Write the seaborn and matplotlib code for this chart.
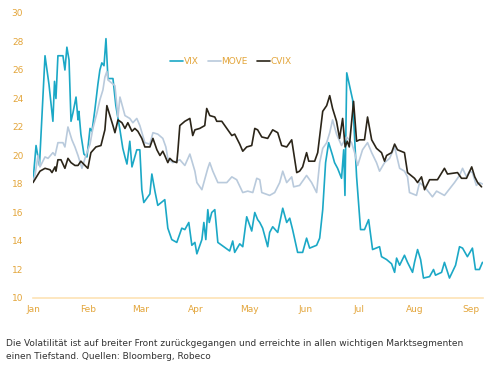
import numpy as np
import pandas as pd
import matplotlib
matplotlib.use("Agg")
import matplotlib.pyplot as plt
import seaborn as sns

# ---- data (day of year 2016, value) ----
vix_day = [0.0, 1.7, 3.6, 6.7, 8.9, 11.1, 12.0, 12.8, 13.9, 16.7, 17.8, 18.9, 20.1, 21.2, 22.3, 24.0,
           25.1, 25.6, 26.7, 28.4, 30.1, 31.8, 32.9, 34.5, 36.2, 37.3, 38.4, 39.6, 40.7, 41.8, 44.6,
           46.2, 48.5, 50.1, 51.3, 52.4, 54.0, 55.2, 57.9, 59.6, 60.7, 61.8, 65.2, 66.3, 68.0, 69.6,
           73.5, 75.2, 77.4, 80.2, 83.0, 84.7, 86.9, 88.6, 90.3, 91.4, 94.2, 95.3, 96.4, 97.5, 98.3,
           99.7, 101.4, 103.1, 106.4, 109.7, 111.4, 112.5, 115.3, 117.0, 119.2, 122.0, 123.7, 125.3,
           126.5, 128.1, 130.9, 132.0, 133.7, 136.5, 139.3, 141.5, 143.2, 144.8, 147.6, 150.4, 152.6,
           154.3, 158.2, 159.9, 161.6, 163.2, 164.9, 167.1, 168.2, 169.9, 172.1, 173.3, 174.0, 175.0,
           178.3, 180.5, 182.7, 184.9, 187.2, 189.4, 193.3, 194.4, 197.2, 200.0, 201.7, 202.8, 204.5,
           207.2, 208.9, 211.7, 212.8, 214.5, 216.2, 217.8, 221.2, 223.4, 224.5, 227.9, 229.5, 232.3,
           235.7, 237.9, 239.6, 242.3, 245.1, 246.8, 249.0, 250.7]
vix = [18.2, 20.7, 19.3, 27.0, 25.0, 22.4, 25.2, 24.0, 27.0, 27.0, 26.0, 27.6, 26.7, 22.4, 23.0, 24.1,
       22.5, 23.1, 21.5, 20.1, 19.9, 21.9, 21.7, 23.2, 25.0, 26.0, 26.5, 26.3, 28.2, 25.4, 25.4,
       23.5, 21.8, 20.5, 19.9, 19.4, 21.0, 19.2, 20.4, 20.4, 17.6, 16.7, 17.3, 18.7, 17.5, 16.5,
       16.9, 14.9, 14.1, 13.9, 14.9, 14.8, 15.3, 13.7, 13.9, 13.1, 14.1, 15.3, 14.1, 16.2, 15.3,
       16.0, 16.2, 13.9, 13.6, 13.3, 14.0, 13.2, 13.8, 13.6, 15.7, 14.7, 16.0, 15.5,
       15.3, 14.9, 13.6, 14.6, 15.0, 14.6, 16.3, 15.3, 15.6, 14.8, 13.2, 13.2, 14.2,
       13.5, 13.7, 14.2, 16.2, 19.5, 20.9, 20.0, 19.5, 19.1, 18.4, 20.4, 17.2, 25.8,
       23.9, 18.5, 14.8, 14.8, 15.5, 13.4, 13.6, 12.9, 12.7, 12.4, 11.8, 12.8, 12.3,
       13.0, 12.5, 11.8, 12.5, 13.4, 12.7, 11.4, 11.5, 12.0, 11.6, 11.8, 12.5, 11.4,
       12.3, 13.6, 13.5, 12.9, 13.5, 12.0, 12.0, 12.5]

move_day = [0.0, 1.1, 2.8, 3.9, 6.7, 8.4, 11.1, 12.3, 13.9, 16.7, 17.8, 19.5, 21.7, 23.4, 25.1, 27.3,
            29.5, 31.8, 33.4, 35.7, 37.3, 39.0, 40.1, 41.2, 41.8, 45.7, 47.4, 48.5, 51.3, 54.0, 55.7,
            57.9, 59.6, 62.4, 65.2, 66.9, 69.6, 72.4, 74.1, 75.2, 78.0, 81.9, 84.7, 87.5, 90.3, 91.4,
            94.2, 97.5, 98.6, 100.3, 103.1, 105.3, 108.1, 110.9, 113.6, 117.0, 119.8, 122.6, 124.8,
            126.5, 127.6, 132.0, 134.8, 137.6, 139.3, 141.5, 144.3, 145.4, 148.7, 152.6, 155.4, 158.2,
            159.9, 161.6, 163.8, 165.5, 167.1, 169.3, 172.1, 174.9, 177.7, 179.4, 181.1, 183.8, 186.6,
            188.9, 191.6, 193.3, 196.1, 198.9, 201.7, 204.5, 207.2, 208.9, 210.0, 213.9, 215.6, 218.4,
            222.8, 225.1, 229.5, 235.1, 237.9, 239.6, 241.8, 243.5, 245.1, 247.3, 249.0, 250.7]
move = [18.2, 18.6, 20.0, 19.2, 19.9, 19.8, 20.2, 20.0, 20.9, 20.9, 20.6, 22.0, 21.1, 20.6, 20.0, 19.1,
        20.0, 20.8, 21.9, 23.0, 23.9, 24.6, 25.5, 25.9, 25.3, 24.9, 22.7, 24.1, 22.8, 22.6, 22.3,
        22.6, 22.1, 20.9, 20.8, 21.6, 21.5, 21.2, 20.6, 19.8, 19.5, 19.7, 19.3, 20.1, 18.9, 18.1,
        17.6, 19.1, 19.5, 18.9, 18.1, 18.1, 18.1, 18.5, 18.3, 17.4, 17.5, 17.4, 18.4,
        18.3, 17.4, 17.2, 17.4, 18.1, 18.9, 18.1, 18.5, 17.8, 17.9, 18.6, 18.1, 17.4,
        19.5, 20.5, 20.9, 21.6, 22.5, 21.5, 20.7, 21.3, 20.9, 20.2, 19.3, 20.4, 20.9,
        20.2, 19.5, 18.9, 19.5, 19.8, 20.6, 19.1, 18.9, 18.5, 17.4, 17.2, 18.1, 17.8,
        17.1, 17.5, 17.2, 18.1, 18.6, 19.1, 18.5, 18.9, 18.8, 17.9, 18.1, 18.0]

cvix_day = [0.0, 3.9, 6.7, 9.5, 10.6, 12.3, 12.8, 13.9, 15.6, 17.8, 19.5, 21.2, 23.4, 25.1, 26.7, 29.0,
            30.6, 32.3, 35.1, 37.9, 40.1, 41.2, 42.9, 44.6, 45.7, 47.4, 49.6, 51.3, 52.9, 55.2, 56.8,
            58.5, 60.7, 62.4, 65.2, 66.9, 69.1, 70.8, 72.4, 73.5, 75.2, 76.3, 78.0, 80.2, 80.8, 81.9,
            84.7, 87.5, 89.1, 90.3, 93.0, 95.8, 96.9, 98.6, 101.4, 102.5, 105.3, 108.1, 110.9, 112.5,
            115.3, 117.0, 119.2, 122.0, 123.7, 125.3, 127.6, 130.9, 133.7, 136.5, 138.7, 141.5, 144.3,
            147.1, 148.7, 150.4, 152.6, 153.8, 157.1, 158.8, 161.6, 163.8, 165.5, 167.1, 169.3, 171.0,
            172.7, 174.1, 175.3, 176.4, 178.8, 180.5, 182.1, 184.9, 186.6, 188.9, 191.6, 194.4, 196.1,
            197.2, 200.0, 201.7, 203.3, 207.2, 208.9, 212.8, 214.5, 216.7, 218.4, 221.2, 225.6, 229.5,
            231.2, 236.8, 239.0, 241.8, 244.7, 246.4, 248.0, 250.2]
cvix = [18.1, 18.9, 19.1, 19.0, 18.8, 19.2, 18.9, 19.7, 19.7, 19.1, 19.8, 19.5, 19.3, 19.3, 19.6, 19.3,
        19.1, 20.2, 20.6, 20.7, 21.8, 23.5, 22.8, 22.1, 21.6, 22.5, 22.3, 21.9, 22.3, 21.7, 21.9,
        21.7, 21.2, 20.6, 20.6, 21.2, 20.4, 20.0, 20.3, 20.0, 19.5, 19.8, 19.6, 19.5, 20.3, 22.1,
        22.4, 22.6, 21.4, 21.8, 21.9, 22.1, 23.3, 22.8, 22.7, 22.4, 22.4, 21.9, 21.4, 21.5,
        20.8, 20.3, 20.6, 20.7, 21.9, 21.8, 21.3, 21.2, 21.8, 21.6, 20.7, 20.6, 21.1,
        18.8, 18.9, 19.2, 20.2, 19.6, 19.6, 20.2, 23.1, 23.5, 24.2, 23.3, 22.4, 21.2,
        22.6, 20.6, 21.0, 20.6, 23.8, 21.0, 21.1, 21.1, 22.7, 21.1, 20.5, 20.2, 19.6,
        20.0, 20.2, 20.8, 20.4, 20.2, 18.8, 18.4, 18.1, 18.5, 17.6, 18.3, 18.3, 19.1,
        18.7, 18.8, 18.4, 18.4, 19.2, 18.5, 18.1, 17.8]

series_names = ["VIX", "MOVE", "CVIX"]
series_colors = ["#1ba8c6", "#b9cadc", "#2b2519"]
month_labels = ["Jan", "Feb", "Mar", "Apr", "May", "Jun", "Jul", "Aug", "Sep"]
month_start_days = [0, 31, 60, 91, 121, 152, 182, 213, 244]
y_ticks = [10, 12, 14, 16, 18, 20, 22, 24, 26, 28, 30]
caption = ("Die Volatilität ist auf breiter Front zurückgegangen und erreichte in allen wichtigen Marktsegmenten\n"
           "einen Tiefstand. Quellen: Bloomberg, Robeco")

frames = []
for name, d, v in [("VIX", vix_day, vix), ("MOVE", move_day, move), ("CVIX", cvix_day, cvix)]:
    frames.append(pd.DataFrame({"day": d, "value": v, "series": name}))
df = pd.concat(frames, ignore_index=True)

sns.set_theme(style="white")
plt.rcParams["font.family"] = ["DejaVu Sans"]

orange = "#e3a53a"

fig = plt.figure(figsize=(5.0, 3.66), dpi=100)
ax = fig.add_axes([0.066, 0.1858, 0.900, 0.7787])

sns.lineplot(data=df, x="day", y="value", hue="series", hue_order=series_names,
             palette=dict(zip(series_names, series_colors)), linewidth=1.2,
             estimator=None, sort=True, ax=ax)

ax.set_xlim(0, 251)
ax.set_ylim(10, 30)
ax.set_xticks(month_start_days)
ax.set_xticklabels(month_labels)
ax.set_yticks(y_ticks)
ax.set_xlabel("")
ax.set_ylabel("")
ax.tick_params(axis="both", colors=orange, labelsize=6.5, length=0)
ax.tick_params(axis="x", pad=5)
ax.tick_params(axis="y", pad=7)
for lbl in ax.get_xticklabels() + ax.get_yticklabels():
    lbl.set_color(orange)
for s in ["top", "right", "left"]:
    ax.spines[s].set_visible(False)
ax.spines["bottom"].set_color("#fde3b5")
ax.spines["bottom"].set_linewidth(1.2)
ax.grid(False)

leg = ax.legend(loc="upper center", bbox_to_anchor=(0.44, 0.875), ncol=3, frameon=False,
                fontsize=6.5, handlelength=1.4, handletextpad=0.1, columnspacing=1.0)
for t in leg.get_texts():
    t.set_color(orange)

fig.text(0.012, 0.044, caption, fontsize=6.45, color="#333333", ha="left", va="center",
         linespacing=1.55)

fig.savefig("out.png", dpi=100)
